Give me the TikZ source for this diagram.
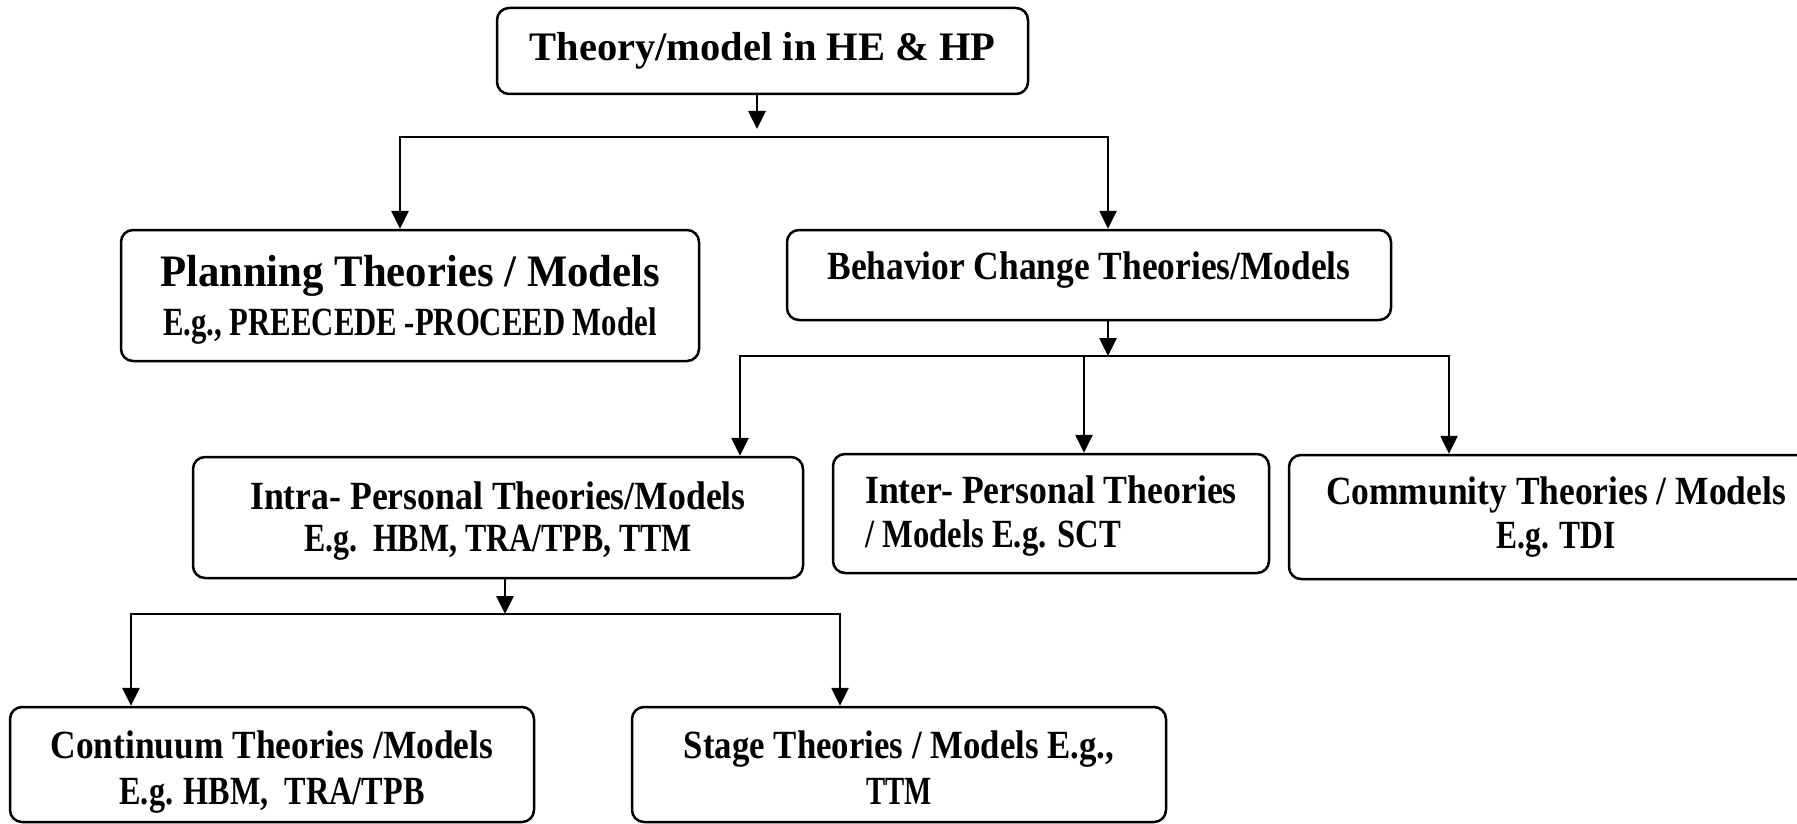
\documentclass[tikz,border=0pt]{standalone}
\usepackage{fontspec}
\usepackage{graphicx}
\setmainfont{Liberation Serif}
\usetikzlibrary{arrows.meta}
% narrow a line of text horizontally, keeping its height
\newcommand{\sqz}[2]{\scalebox{#1}[1]{#2}}
% invisible strut that lowers a block of lines inside its box
\newcommand{\dn}[1]{\rule{0pt}{#1}}
% invisible strut giving a line without descenders a descender's depth
\newcommand{\dpt}{\rule[-9pt]{0pt}{1pt}}
\begin{document}
\begin{tikzpicture}[x=1pt,y=-1pt,
  box/.style={draw, line width=2.5pt, rounded corners=12pt, align=center,
    inner sep=0pt, font=\bfseries\fontsize{40}{44}\selectfont},
  link/.style={line width=2.7pt},
  tip/.tip={Triangle[width=17pt,length=18pt]},
  arr/.style={link, -tip},
  bus/.style={link, tip-tip}]
\clip (0,0) rectangle (1797,824);

% boxes
\node[box, minimum width=531pt, minimum height=86pt,
  font=\bfseries\fontsize{40.5}{48}\selectfont] (top) at (762.5,51)
  {Theory/model in HE \& HP};
\node[box, minimum width=578pt, minimum height=131pt,
  font=\bfseries\fontsize{40}{49}\selectfont] (plan) at (410,295.5)
  {\dn{40pt}{\fontsize{45}{49}\selectfont\sqz{0.95}{Planning Theories / Models}}\\
   \sqz{0.768}{E.g., PREECEDE -PROCEED Model}};
\node[box, minimum width=604pt, minimum height=90pt, text depth=19pt] (beh) at (1089,275)
  {\sqz{0.885}{Behavior Change Theories/Models}};
\node[box, minimum width=610pt, minimum height=121pt,
  font=\bfseries\fontsize{40}{42}\selectfont] (intra) at (498,517.5)
  {\dn{35pt}\sqz{0.892}{Intra- Personal Theories/Models}\\
   \sqz{0.797}{E.g.\ \ HBM, TRA/TPB, TTM}};
\node[box, align=left, minimum width=436pt, minimum height=119pt] (inter) at (1051,513.5)
  {\dn{33pt}\sqz{0.893}{Inter- Personal Theories}\\
   \sqz{0.816}{/ Models E.g. SCT}};
\node[box, minimum width=534pt, minimum height=124pt] (comm) at (1556,517)
  {\sqz{0.886}{Community Theories / Models}\\
   \sqz{0.786}{E.g. TDI}};
\node[box, minimum width=524pt, minimum height=115pt,
  font=\bfseries\fontsize{40}{46}\selectfont] (cont) at (272,764.5)
  {\dn{43pt}\sqz{0.885}{Continuum Theories /Models}\\
   \sqz{0.805}{E.g. HBM,\ \ TRA/TPB}};
\node[box, minimum width=534pt, minimum height=115pt,
  font=\bfseries\fontsize{40}{46}\selectfont] (stage) at (899,764.5)
  {\dn{43pt}\sqz{0.87}{Stage Theories / Models E.g.,}\\
   \dpt\sqz{0.72}{TTM}};

% junction points
\coordinate (t1) at (757,129);
\coordinate (b1L) at (400,137);
\coordinate (b1R) at (1108,137);
\coordinate (b2) at (1108,356);
\coordinate (b2L) at (740,356);
\coordinate (b2M) at (1084,356);
\coordinate (b2R) at (1449,356);
\coordinate (b3) at (505,614);
\coordinate (b3L) at (131,614);
\coordinate (b3R) at (840,614);

% connectors
\draw[arr] (t1 |- top.south) -- (t1);
\draw[bus] (b1L |- plan.north) -- (b1L) -- (b1R) -- (b1R |- beh.north);

\draw[arr] (b2 |- beh.south) -- (b2);
\draw[bus] (b2L |- intra.north) -- (b2L) -- (b2R) -- (b2R |- comm.north);
\draw[arr] (b2M) -- (b2M |- inter.north);

\draw[arr] (b3 |- intra.south) -- (b3);
\draw[bus] (b3L |- cont.north) -- (b3L) -- (b3R) -- (b3R |- stage.north);
\end{tikzpicture}
\end{document}
